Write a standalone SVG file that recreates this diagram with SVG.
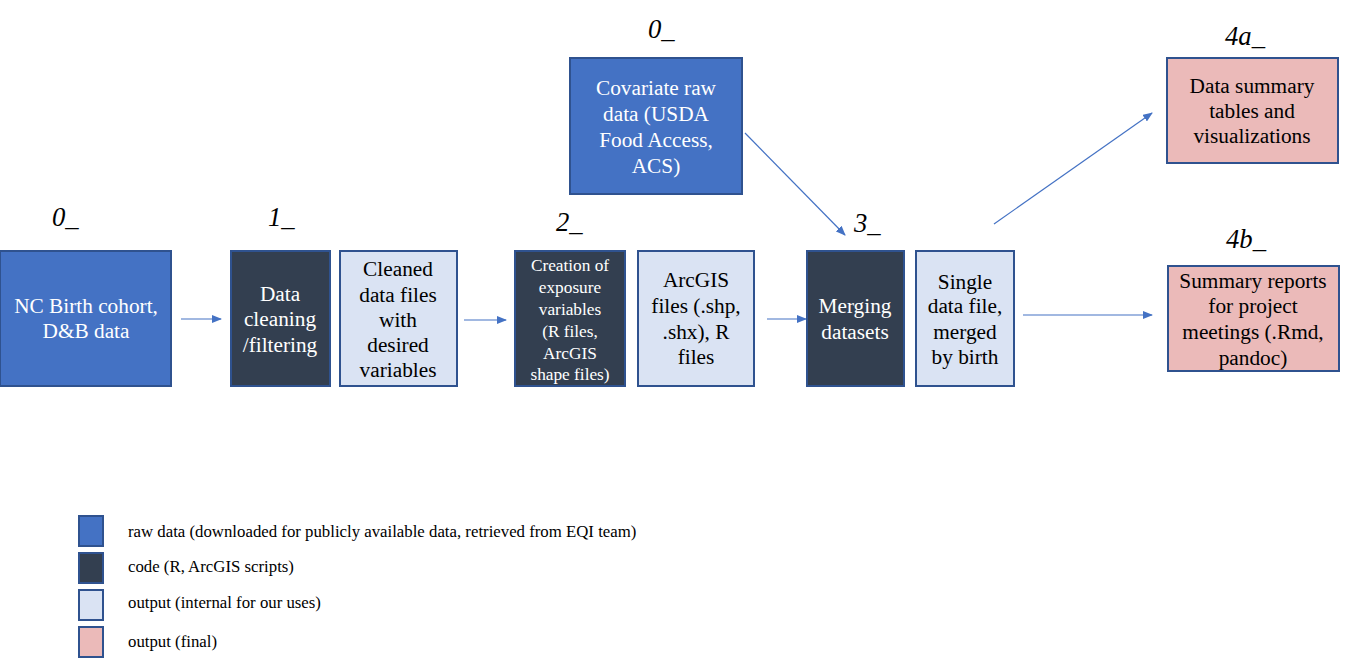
<svg xmlns="http://www.w3.org/2000/svg" width="1357" height="665" viewBox="0 0 1357 665">
<defs>
<marker id="ah" markerWidth="10" markerHeight="8" refX="9" refY="4" orient="auto" markerUnits="userSpaceOnUse">
<path d="M0,0 L10,4 L0,8 z" fill="#4472C4"/>
</marker>
<style>
.box{stroke:#2F528F;stroke-width:2}
.raw{fill:#4472C4}
.code{fill:#333F50}
.out{fill:#DAE3F3}
.fin{fill:#EBBAB9}
.t{font-family:'Liberation Serif', 'Times New Roman', serif}
.m{text-anchor:middle}
.w{fill:#FFFFFF;font-size:21.3px}
.b{fill:#000000;font-size:21.3px}
.sm{font-size:17.3px}
.lab{font-size:26.7px;font-style:italic;fill:#000}
.leg{font-size:16.8px;fill:#000}
.c{stroke:#4472C4;stroke-width:1.2;fill:none}
</style>
</defs>
<rect width="1357" height="665" fill="#FFFFFF"/>

<g id="labels">
<text class="t lab" x="52" y="226">0_</text>
<text class="t lab" x="268" y="226">1_</text>
<text class="t lab" x="556" y="231">2_</text>
<text class="t lab" x="854" y="232">3_</text>
<text class="t lab" x="648" y="38">0_</text>
<text class="t lab" x="1225" y="45">4a_</text>
<text class="t lab" x="1226" y="248">4b_</text>
</g>

<g id="connectors">
<line class="c" x1="181" y1="319" x2="221" y2="319" marker-end="url(#ah)"/>
<line class="c" x1="464" y1="320" x2="506" y2="320" marker-end="url(#ah)"/>
<line class="c" x1="767" y1="319" x2="806" y2="319" marker-end="url(#ah)"/>
<line class="c" x1="745" y1="133" x2="845" y2="235" marker-end="url(#ah)"/>
<line class="c" x1="994" y1="224" x2="1152" y2="113" marker-end="url(#ah)"/>
<line class="c" x1="1023" y1="315" x2="1152" y2="315" marker-end="url(#ah)"/>
</g>

<g id="n-birth">
<rect class="box raw" x="0" y="251" width="171" height="135"/>
<text class="t m w" x="86" y="313">NC Birth cohort,</text>
<text class="t m w" x="86" y="338">D&amp;B data</text>
</g>

<g id="n-cleaning">
<rect class="box code" x="231" y="251" width="99" height="135"/>
<text class="t m w" x="280" y="301">Data</text>
<text class="t m w" x="280" y="326">cleaning</text>
<text class="t m w" x="280" y="352">/filtering</text>
</g>

<g id="n-cleaned">
<rect class="box out" x="340" y="251" width="117" height="135"/>
<text class="t m b" x="398" y="276">Cleaned</text>
<text class="t m b" x="398" y="302">data files</text>
<text class="t m b" x="398" y="327">with</text>
<text class="t m b" x="398" y="352">desired</text>
<text class="t m b" x="398" y="377">variables</text>
</g>

<g id="n-creation">
<rect class="box code" x="515" y="251" width="110" height="135"/>
<text class="t m w sm" x="570" y="271">Creation of</text>
<text class="t m w sm" x="570" y="293">exposure</text>
<text class="t m w sm" x="570" y="315">variables</text>
<text class="t m w sm" x="570" y="337">(R files,</text>
<text class="t m w sm" x="570" y="359">ArcGIS</text>
<text class="t m w sm" x="570" y="380">shape files)</text>
</g>

<g id="n-arcgis">
<rect class="box out" x="638" y="251" width="116" height="135"/>
<text class="t m b" x="696" y="287">ArcGIS</text>
<text class="t m b" x="696" y="313">files (.shp,</text>
<text class="t m b" x="696" y="339">.shx), R</text>
<text class="t m b" x="696" y="364">files</text>
</g>

<g id="n-merging">
<rect class="box code" x="807" y="251" width="97" height="135"/>
<text class="t m w" x="855" y="313">Merging</text>
<text class="t m w" x="855" y="339">datasets</text>
</g>

<g id="n-single">
<rect class="box out" x="916" y="251" width="98" height="135"/>
<text class="t m b" x="965" y="289">Single</text>
<text class="t m b" x="965" y="313">data file,</text>
<text class="t m b" x="965" y="339">merged</text>
<text class="t m b" x="965" y="364">by birth</text>
</g>

<g id="n-covariate">
<rect class="box raw" x="570" y="58" width="172" height="136"/>
<text class="t m w" x="656" y="95">Covariate raw</text>
<text class="t m w" x="656" y="121">data (USDA</text>
<text class="t m w" x="656" y="147">Food Access,</text>
<text class="t m w" x="656" y="173">ACS)</text>
</g>

<g id="n-summary">
<rect class="box fin" x="1167" y="58" width="171" height="105"/>
<text class="t m b" x="1252" y="93">Data summary</text>
<text class="t m b" x="1252" y="118">tables and</text>
<text class="t m b" x="1252" y="143">visualizations</text>
</g>

<g id="n-reports">
<rect class="box fin" x="1168" y="266" width="171" height="105"/>
<text class="t m b" x="1253" y="288">Summary reports</text>
<text class="t m b" x="1253" y="313">for project</text>
<text class="t m b" x="1253" y="339">meetings (.Rmd,</text>
<text class="t m b" x="1253" y="365">pandoc)</text>
</g>

<g id="legend">
<rect class="box raw" x="79" y="516" width="24" height="30"/>
<rect class="box code" x="79" y="553" width="24" height="30"/>
<rect class="box out" x="79" y="590" width="24" height="30"/>
<rect class="box fin" x="79" y="627" width="24" height="30"/>
<text class="t leg" x="128" y="537">raw data (downloaded for publicly available data, retrieved from EQI team)</text>
<text class="t leg" x="128" y="572">code (R, ArcGIS scripts)</text>
<text class="t leg" x="128" y="608">output (internal for our uses)</text>
<text class="t leg" x="128" y="647">output (final)</text>
</g>
</svg>
